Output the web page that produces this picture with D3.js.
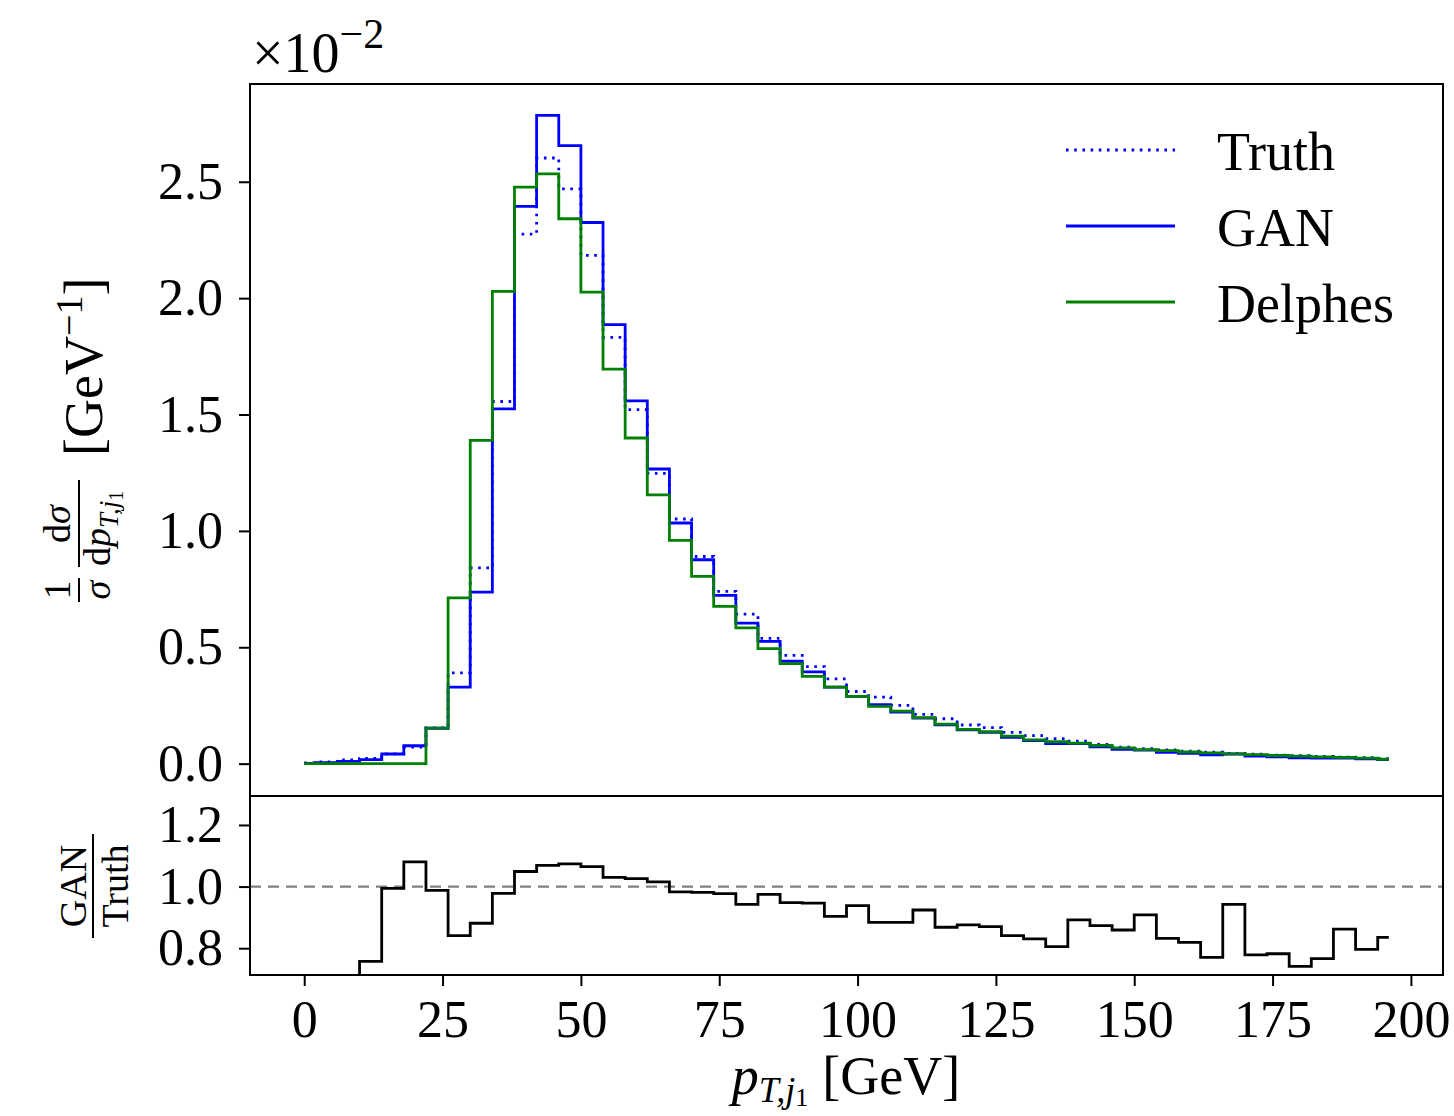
<!DOCTYPE html>
<html>
<head>
<meta charset="utf-8">
<script src="https://cdn.jsdelivr.net/npm/d3@7/dist/d3.min.js"></script>
<style>
    body { margin: 0; background: #fff; }
    text { font-family: "Liberation Serif", "DejaVu Serif", serif; fill: #000; }
</style>
</head>
<body>
<div id="viz"></div>
<script>
// bin centres in GeV (histogram drawn as step, where='mid')
const binCenters = [0, 4, 8, 12, 16, 20, 24, 28, 32, 36, 40, 44, 48, 52, 56, 60, 64, 68, 72, 76,
    80, 84, 88, 92, 96, 100, 104, 108, 112, 116, 120, 124, 128, 132, 136, 140, 144, 148, 152, 156,
    160, 164, 168, 172, 176, 180, 184, 188, 192, 196];

// values in units of 1e-2 GeV^-1
const truth = [0.003, 0.008, 0.016, 0.0225, 0.042, 0.071, 0.154, 0.390, 0.841, 1.556,
    2.275, 2.602, 2.469, 2.184, 1.831, 1.521, 1.247, 1.051, 0.890, 0.740,
    0.642, 0.538, 0.465, 0.417, 0.364, 0.310, 0.286, 0.250, 0.212, 0.193,
    0.166, 0.155, 0.134, 0.120, 0.107, 0.097, 0.083, 0.071, 0.064, 0.059,
    0.054, 0.049, 0.044, 0.041, 0.037, 0.034, 0.031, 0.028, 0.026, 0.021];

const gan = [0.001, 0.004, 0.010, 0.017, 0.0415, 0.077, 0.152, 0.329, 0.737, 1.524,
    2.394, 2.785, 2.655, 2.325, 1.886, 1.559, 1.266, 1.034, 0.876, 0.723,
    0.604, 0.525, 0.440, 0.394, 0.329, 0.289, 0.253, 0.221, 0.196, 0.167,
    0.145, 0.134, 0.113, 0.099, 0.086, 0.0865, 0.0725, 0.061, 0.058, 0.049,
    0.044, 0.038, 0.0415, 0.032, 0.029, 0.025, 0.024, 0.024, 0.0207, 0.0175];

const delphes = [0, 0, 0, 0, 0, 0, 0.153, 0.712, 1.389, 2.029,
    2.477, 2.534, 2.341, 2.026, 1.695, 1.399, 1.155, 0.959, 0.805, 0.676,
    0.583, 0.494, 0.430, 0.375, 0.329, 0.289, 0.246, 0.226, 0.198, 0.170,
    0.147, 0.137, 0.118, 0.102, 0.094, 0.088, 0.078, 0.068, 0.060, 0.056,
    0.050, 0.046, 0.042, 0.039, 0.035, 0.032, 0.029, 0.027, 0.024, 0.019];

// GAN / Truth
const ratio = [0.33, 0.50, 0.62, 0.757, 0.994, 1.080, 0.988, 0.841, 0.881, 0.978,
    1.049, 1.069, 1.074, 1.065, 1.030, 1.026, 1.015, 0.983, 0.981, 0.977,
    0.942, 0.975, 0.948, 0.946, 0.903, 0.938, 0.884, 0.884, 0.924, 0.868,
    0.876, 0.870, 0.841, 0.830, 0.805, 0.892, 0.873, 0.859, 0.908, 0.832,
    0.819, 0.770, 0.942, 0.778, 0.782, 0.741, 0.766, 0.862, 0.796, 0.835];

const xTicks = [0, 25, 50, 75, 100, 125, 150, 175, 200];
const yTicks = [0.0, 0.5, 1.0, 1.5, 2.0, 2.5];
const ratioTicks = [0.8, 1.0, 1.2];

const series = [
    { name: "Truth", values: truth, color: "#0000ff", dash: "2.6 5.6" },
    { name: "GAN", values: gan, color: "#0000ff", dash: null },
    { name: "Delphes", values: delphes, color: "#008000", dash: null }
];

const width = 1454;
const height = 1116;
const left = 250, right = 1443;
const mainTop = 84, mainBottom = 796;
const ratioTop = 796, ratioBottom = 975;
const fontSize = 52;

const svg = d3.select("#viz").append("svg")
    .attr("width", width)
    .attr("height", height);

const x = d3.scaleLinear().domain([-9.8, 205.8]).range([left, right]);
const y = d3.scaleLinear().domain([-0.139, 2.92]).range([mainBottom, mainTop]);
const yr = d3.scaleLinear().domain([0.713, 1.294]).range([ratioBottom, ratioTop]);

svg.append("clipPath").attr("id", "clipRatio")
    .append("rect")
    .attr("x", left).attr("y", ratioTop)
    .attr("width", right - left).attr("height", ratioBottom - ratioTop);

// main histograms
series.forEach(s => {
    const line = d3.line()
        .x((d, i) => x(binCenters[i]))
        .y(d => y(d))
        .curve(d3.curveStep);
    svg.append("path")
        .datum(s.values)
        .attr("d", line)
        .attr("fill", "none")
        .attr("stroke", s.color)
        .attr("stroke-width", 2.8)
        .attr("stroke-dasharray", s.dash);
});

// ratio panel
svg.append("line")
    .attr("x1", left).attr("x2", right)
    .attr("y1", yr(1)).attr("y2", yr(1))
    .attr("stroke", "#808080")
    .attr("stroke-width", 2.4)
    .attr("stroke-dasharray", "11 7");

const ratioLine = d3.line()
    .x((d, i) => x(binCenters[i]))
    .y(d => yr(d))
    .curve(d3.curveStep);

svg.append("path")
    .datum(ratio)
    .attr("clip-path", "url(#clipRatio)")
    .attr("d", ratioLine)
    .attr("fill", "none")
    .attr("stroke", "#000")
    .attr("stroke-width", 2.8);

// axes
function styleAxis(g) {
    g.select(".domain").remove();
    g.selectAll(".tick line").attr("stroke", "#000").attr("stroke-width", 2);
    g.selectAll(".tick text").style("font-size", fontSize + "px");
}

svg.append("g")
    .attr("transform", `translate(${left},0)`)
    .call(d3.axisLeft(y).tickValues(yTicks).tickFormat(d3.format(".1f")).tickSize(11).tickPadding(16))
    .call(styleAxis);

svg.append("g")
    .attr("transform", `translate(${left},0)`)
    .call(d3.axisLeft(yr).tickValues(ratioTicks).tickFormat(d3.format(".1f")).tickSize(11).tickPadding(16))
    .call(styleAxis);

svg.append("g")
    .attr("transform", `translate(0,${ratioBottom})`)
    .call(d3.axisBottom(x).tickValues(xTicks).tickFormat(d3.format("d")).tickSize(11).tickPadding(14))
    .call(styleAxis);

// frames
[[mainTop, mainBottom], [ratioTop, ratioBottom]].forEach(([t, b]) => {
    svg.append("rect")
        .attr("x", left).attr("y", t)
        .attr("width", right - left).attr("height", b - t)
        .attr("fill", "none")
        .attr("stroke", "#000")
        .attr("stroke-width", 2);
});

// offset text
const off = svg.append("text").attr("x", 252).attr("y", 72).style("font-size", "56px");
off.append("tspan").text("×10");
off.append("tspan").attr("dy", -24).style("font-size", "42px").text("−2");

// legend
const legend = svg.append("g");
series.forEach((s, i) => {
    const ly = 150 + i * 76;
    legend.append("line")
        .attr("x1", 1066).attr("x2", 1175)
        .attr("y1", ly).attr("y2", ly)
        .attr("stroke", s.color)
        .attr("stroke-width", 2.8)
        .attr("stroke-dasharray", s.dash);
    legend.append("text")
        .attr("x", 1217).attr("y", ly + 20)
        .style("font-size", "54px")
        .text(s.name);
});

// y label (main)
const yl = svg.append("g").attr("transform", "translate(82,442) rotate(-90)");
yl.append("text").attr("x", -148).attr("y", -12).attr("text-anchor", "middle").style("font-size", "38px").text("1");
yl.append("line").attr("x1", -160).attr("x2", -136).attr("y1", -3).attr("y2", -3).attr("stroke", "#000").attr("stroke-width", 2);
yl.append("text").attr("x", -148).attr("y", 28).attr("text-anchor", "middle").style("font-size", "38px").style("font-style", "italic").text("σ");

yl.append("text").attr("x", -82).attr("y", -12).attr("text-anchor", "middle").style("font-size", "38px")
    .call(t => { t.append("tspan").text("d"); t.append("tspan").style("font-style", "italic").text("σ"); });
yl.append("line").attr("x1", -125).attr("x2", -38).attr("y1", -3).attr("y2", -3).attr("stroke", "#000").attr("stroke-width", 2);
const den = yl.append("text").attr("x", -124).attr("y", 28).style("font-size", "38px");
den.append("tspan").text("d");
den.append("tspan").style("font-style", "italic").text("p");
den.append("tspan").attr("dy", 8).style("font-size", "27px").style("font-style", "italic").text("T,j");
den.append("tspan").attr("dy", 5).style("font-size", "20px").text("1");

const unit = yl.append("text").attr("x", -14).attr("y", 20).style("font-size", "54px");
unit.append("tspan").text("[GeV");
unit.append("tspan").attr("dy", -20).style("font-size", "38px").text("−1");
unit.append("tspan").attr("dy", 20).text("]");

// y label (ratio)
const rl = svg.append("g").attr("transform", "translate(93,886) rotate(-90)");
rl.append("text").attr("x", 0).attr("y", -7).attr("text-anchor", "middle").style("font-size", "38px").text("GAN");
rl.append("line").attr("x1", -52).attr("x2", 52).attr("y1", 0).attr("y2", 0).attr("stroke", "#000").attr("stroke-width", 2);
rl.append("text").attr("x", 0).attr("y", 35).attr("text-anchor", "middle").style("font-size", "38px").text("Truth");

// x label
const xl = svg.append("text").attr("x", 846).attr("y", 1094).attr("text-anchor", "middle").style("font-size", "54px");
xl.append("tspan").style("font-style", "italic").text("p");
xl.append("tspan").attr("dy", 8).style("font-size", "36px").style("font-style", "italic").text("T,j");
xl.append("tspan").attr("dy", 4).style("font-size", "26px").text("1");
xl.append("tspan").attr("dy", -12).attr("dx", 14).text("[GeV]");
</script>
</body>
</html>
